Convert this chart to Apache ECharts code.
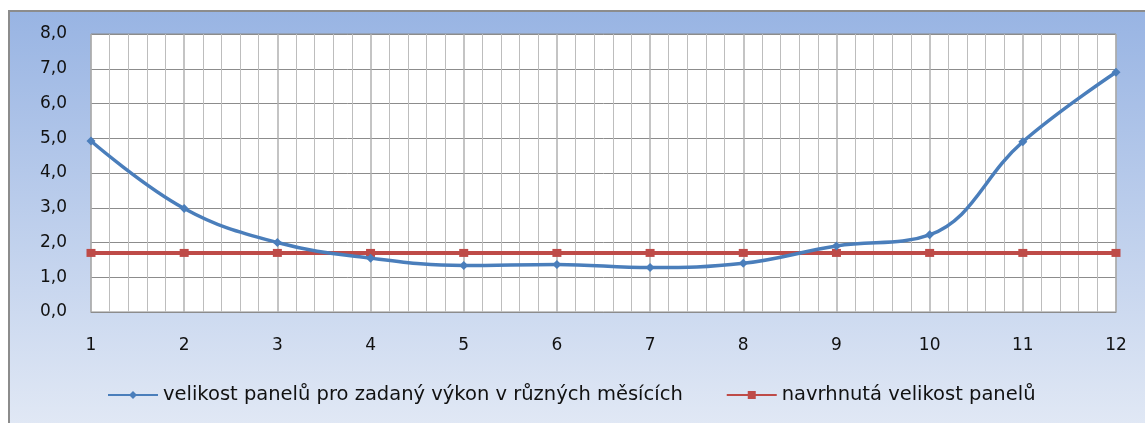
<!DOCTYPE html>
<html><head><meta charset="utf-8">
<script src="https://cdn.jsdelivr.net/npm/echarts@6/dist/echarts.min.js"></script>
<style>html,body{margin:0;padding:0;background:#fff}#c{width:1145px;height:423px}</style>
</head><body><div id="c"></div>
<script>
const months = [1,2,3,4,5,6,7,8,9,10,11,12];
const panelSize = [4.92,2.98,2.0,1.55,1.34,1.37,1.28,1.40,1.90,2.22,4.90,6.90];
const designedSize = [1.7,1.7,1.7,1.7,1.7,1.7,1.7,1.7,1.7,1.7,1.7,1.7];
const yTicks = [0,1,2,3,4,5,6,7,8];
const seriesNames = ['velikost panelů pro zadaný výkon v různých měsících','navrhnutá velikost panelů'];

const FONT = 'DejaVu Sans';
const chart = echarts.init(document.getElementById('c'));
chart.setOption({
  animation:false,
  graphic:[{type:'rect',z:-10,silent:true,shape:{x:9,y:11,width:1150,height:420},
    style:{fill:new echarts.graphic.LinearGradient(0,0,0,1,[{offset:0,color:'#98b4e3'},{offset:1,color:'#e2e9f5'}]),stroke:'#8c8c8c',lineWidth:2}}],
  grid:{left:91,top:34,right:29,bottom:111,show:true,backgroundColor:'#fff',borderColor:'#8c8c8c',borderWidth:1},
  xAxis:{type:'value',min:1,max:12,interval:1,
    axisLine:{lineStyle:{color:'#8c8c8c'}},axisTick:{show:false},
    axisLabel:{color:'#111',fontFamily:FONT,fontSize:17,margin:25},
    splitLine:{show:true,lineStyle:{color:'#b0b0b0',width:1.5}},
    minorTick:{show:false,splitNumber:5},
    minorSplitLine:{show:true,lineStyle:{color:'#bdbdbd',width:1}}},
  yAxis:{type:'value',min:yTicks[0],max:yTicks[yTicks.length-1],interval:1,
    axisLine:{show:false},axisTick:{show:false},
    axisLabel:{color:'#111',fontFamily:FONT,fontSize:17,margin:24,formatter:v=>v.toFixed(1).replace('.',',')},
    splitLine:{show:true,lineStyle:{color:'#8c8c8c',width:1}}},
  legend:{bottom:13,left:102,itemWidth:50,itemHeight:10,itemGap:43,
    textStyle:{color:'#111',fontFamily:FONT,fontSize:19.5},
    data:[{name:seriesNames[0]},{name:seriesNames[1]}]},
  series:[
    {name:seriesNames[0],type:'line',smooth:0.4,data:months.map((m,i)=>[m,panelSize[i]]),
      symbol:'diamond',symbolSize:9,color:'#4a7ebb',lineStyle:{width:3.5,color:'#4a7ebb'},itemStyle:{color:'#4a7ebb'},z:3},
    {name:seriesNames[1],type:'line',data:months.map((m,i)=>[m,designedSize[i]]),
      symbol:'rect',symbolSize:[9,8],color:'#be4b48',lineStyle:{width:4,color:'#be4b48'},itemStyle:{color:'#be4b48'},z:2}
  ]
});
</script></body></html>
